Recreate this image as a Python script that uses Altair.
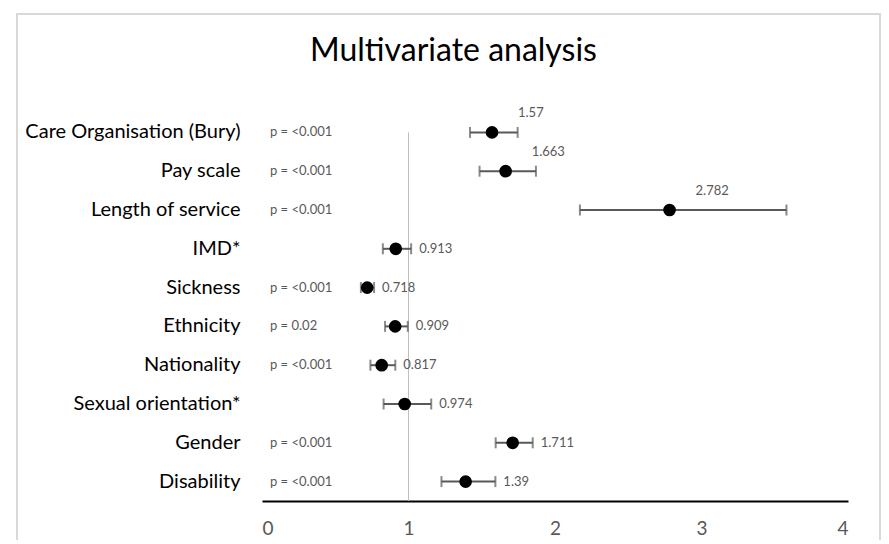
import altair as alt
import pandas as pd

categories = ["Care Organisation (Bury)", "Pay scale", "Length of service", "IMD*",
              "Sickness", "Ethnicity", "Nationality", "Sexual orientation*",
              "Gender", "Disability"]
odds = [1.57, 1.663, 2.782, 0.913, 0.718, 0.909, 0.817, 0.974, 1.711, 1.39]
lower = [1.42, 1.485, 2.17, 0.825, 0.675, 0.84, 0.74, 0.83, 1.595, 1.225]
upper = [1.745, 1.87, 3.58, 1.018, 0.765, 0.995, 0.91, 1.155, 1.848, 1.593]
pvals = ["p = <0.001", "p = <0.001", "p = <0.001", "", "p = <0.001", "p = 0.02",
         "p = <0.001", "", "p = <0.001", "p = <0.001"]
x_ticks = [0, 1, 2, 3, 4]
label_above = ["Care Organisation (Bury)", "Pay scale", "Length of service"]

df = pd.DataFrame({"cat": categories, "or": odds, "lo": lower, "hi": upper,
                   "p": pvals, "lab": [str(v) for v in odds]})
df["above"] = df["cat"].isin(label_above)

FONT = "Lato"
GREY = "#595959"

VIEW_W, VIEW_H = 863, 540
X_RANGE = [245, 831]
Y_RANGE = [99, 487]

xs = alt.Scale(domain=[0, 4], range=X_RANGE, nice=False, zero=False)
ys = alt.Scale(domain=categories, range=Y_RANGE, paddingInner=0, paddingOuter=0)

base = alt.Chart(df)

y_enc = alt.Y("cat:N", scale=ys, sort=categories,
              axis=alt.Axis(title=None, domain=False, ticks=False, labelPadding=22,
                            labelFontSize=20, labelColor="#000000", labelFont=FONT,
                            offset=-X_RANGE[0], labelLimit=400))
x_enc = alt.X("or:Q", scale=xs,
              axis=alt.Axis(title=None, values=x_ticks, grid=False, ticks=False, tickSize=0,
                            domainColor="#000000", domainWidth=2, labelFontSize=19,
                            labelColor=GREY, labelFont=FONT, labelPadding=18,
                            offset=-(VIEW_H - Y_RANGE[1]), format="d"))

ref = alt.Chart(pd.DataFrame({"x": [1], "cat": [categories[0]]})).mark_rule(
    color="#bfbfbf", strokeWidth=1).encode(
    x=alt.X("x:Q", scale=xs), y=alt.Y("cat:N", scale=ys, sort=categories),
    y2=alt.value(Y_RANGE[1]))

bars = base.mark_rule(color=GREY, strokeWidth=2).encode(
    x=alt.X("lo:Q", scale=xs), x2="hi:Q", y=alt.Y("cat:N", scale=ys, sort=categories))
cap_lo = base.mark_tick(color=GREY, thickness=2, size=11, orient="vertical").encode(
    x=alt.X("lo:Q", scale=xs), y=alt.Y("cat:N", scale=ys, sort=categories))
cap_hi = base.mark_tick(color=GREY, thickness=2, size=11, orient="vertical").encode(
    x=alt.X("hi:Q", scale=xs), y=alt.Y("cat:N", scale=ys, sort=categories))
points = base.mark_circle(color="#000000", opacity=1, size=160).encode(
    x=x_enc, y=y_enc)

lab_right = base.transform_filter("!datum.above").mark_text(
    align="left", baseline="middle", dx=8, fontSize=13, font=FONT, color=GREY).encode(
    x=alt.X("hi:Q", scale=xs), y=alt.Y("cat:N", scale=ys, sort=categories), text="lab:N")
lab_above = base.transform_filter("datum.above").mark_text(
    align="left", baseline="middle", dx=26, dy=-19, fontSize=13, font=FONT, color=GREY).encode(
    x=alt.X("or:Q", scale=xs), y=alt.Y("cat:N", scale=ys, sort=categories), text="lab:N")
ptext = base.mark_text(align="left", baseline="middle", fontSize=13, font=FONT,
                       color=GREY).encode(
    x=alt.value(X_RANGE[0] + 8), y=alt.Y("cat:N", scale=ys, sort=categories), text="p:N")

chart = alt.layer(ref, bars, cap_lo, cap_hi, points, lab_right, lab_above, ptext).properties(
    width=VIEW_W, height=VIEW_H,
    padding={"left": 9, "top": 6, "right": 1, "bottom": -14},
    autosize=alt.AutoSizeParams(type="none"),
    title=alt.TitleParams("Multivariate analysis", anchor="middle", frame="group",
                          font=FONT, fontSize=32, fontWeight="normal", color="#000000",
                          baseline="alphabetic", offset=0, dy=79, dx=5),
).configure_view(stroke="#d9d9d9", strokeWidth=2)

chart.save("out.html", embed_options={"renderer": "svg", "actions": False})
